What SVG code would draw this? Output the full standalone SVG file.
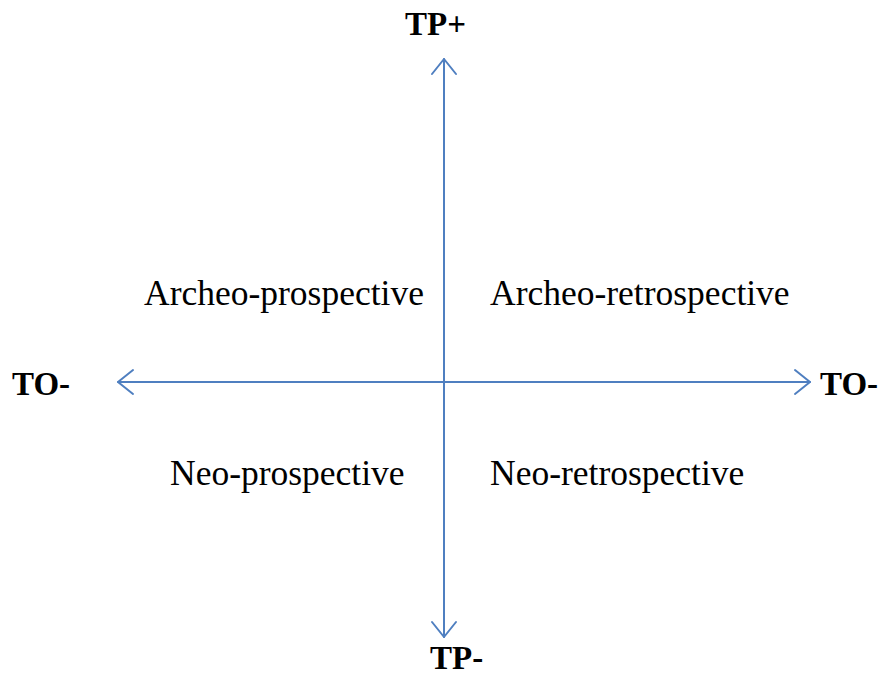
<svg xmlns="http://www.w3.org/2000/svg" width="883" height="675" viewBox="0 0 883 675">
  <style>
    .axis { fill: none; stroke: #4f7fc0; stroke-width: 2; stroke-linecap: round; stroke-linejoin: round; }
    .pole { font-family: "Liberation Serif", "Times New Roman", serif; font-weight: bold; font-size: 33px; fill: #000; }
    .quad { font-family: "Liberation Serif", "Times New Roman", serif; font-size: 35.5px; fill: #000; }
  </style>
  <rect width="883" height="675" fill="#fff"/>

  <g id="connectors">
    <!-- vertical axis with open heads at both ends -->
    <line class="axis" x1="444" y1="59" x2="444" y2="637"/>
    <polyline class="axis" points="432,74 444,59 456,74"/>
    <polyline class="axis" points="432,622 444,637 456,622"/>
    <!-- horizontal axis with open heads at both ends -->
    <line class="axis" x1="118" y1="382" x2="810" y2="382"/>
    <polyline class="axis" points="133,370 118,382 133,394"/>
    <polyline class="axis" points="795,370 810,382 795,394"/>
  </g>

  <g id="tp-plus"><text class="pole" x="405" y="35">TP+</text></g>
  <g id="tp-minus"><text class="pole" x="430" y="669">TP-</text></g>
  <g id="to-left"><text class="pole" x="12" y="395">TO-</text></g>
  <g id="to-right"><text class="pole" x="820" y="395">TO-</text></g>

  <g id="archeo-prospective"><text class="quad" x="144" y="305">Archeo-prospective</text></g>
  <g id="archeo-retrospective"><text class="quad" x="490" y="305">Archeo-retrospective</text></g>
  <g id="neo-prospective"><text class="quad" x="170" y="485">Neo-prospective</text></g>
  <g id="neo-retrospective"><text class="quad" x="490" y="485">Neo-retrospective</text></g>
</svg>
